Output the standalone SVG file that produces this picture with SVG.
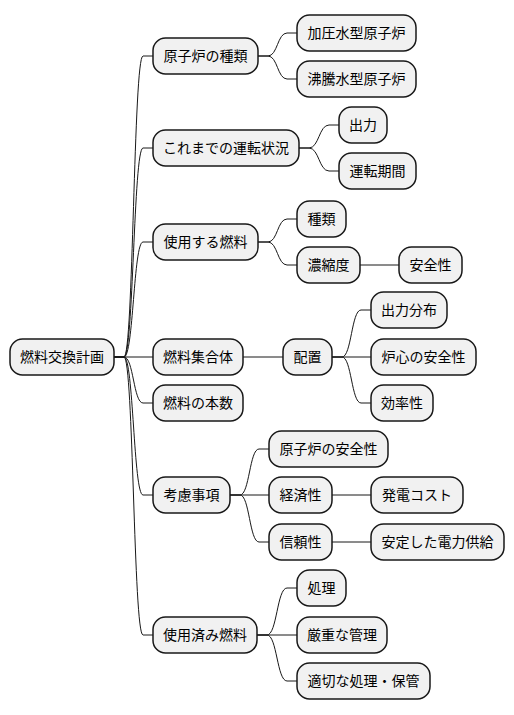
<svg xmlns="http://www.w3.org/2000/svg" width="514" height="715" viewBox="0 0 514 715">
<style>
rect{fill:#F1F1F1;stroke:#181818;stroke-width:1.5}
text{font-family:"Noto Sans CJK JP","Noto Sans CJK SC",sans-serif;font-size:14px;fill:#000;text-anchor:middle}
.c path{fill:none;stroke:#181818;stroke-width:1}
</style>
<rect x="0" y="0" width="514" height="715" style="fill:#fff;stroke:none"/>
<g class="c" id="connectors">
<path d="M114,357 L124,357 C133.5,357 133.5,56 143,56 L153,56"/>
<path d="M114,357 L124,357 C133.5,357 133.5,148 143,148 L153,148"/>
<path d="M114,357 L124,357 C133.5,357 133.5,242 143,242 L153,242"/>
<path d="M114,357 L153,357"/>
<path d="M114,357 L124,357 C133.5,357 133.5,403 143,403 L153,403"/>
<path d="M114,357 L124,357 C133.5,357 133.5,495 143,495 L153,495"/>
<path d="M114,357 L124,357 C133.5,357 133.5,635 143,635 L153,635"/>
<path d="M258,56 L268,56 C277.5,56 277.5,33 287,33 L297,33"/>
<path d="M258,56 L268,56 C277.5,56 277.5,79 287,79 L297,79"/>
<path d="M299,148 L309,148 C319,148 319,125 329,125 L339,125"/>
<path d="M299,148 L309,148 C319,148 319,171 329,171 L339,171"/>
<path d="M258,242 L268,242 C277.5,242 277.5,219 287,219 L297,219"/>
<path d="M258,242 L268,242 C277.5,242 277.5,265 287,265 L297,265"/>
<path d="M360,265 L399,265"/>
<path d="M243,357 L283,357"/>
<path d="M332,357 L342,357 C351.5,357 351.5,310 361,310 L371,310"/>
<path d="M332,357 L371,357"/>
<path d="M332,357 L342,357 C351.5,357 351.5,403 361,403 L371,403"/>
<path d="M230,495 L240,495 C249.5,495 249.5,449 259,449 L269,449"/>
<path d="M230,495 L269,495"/>
<path d="M230,495 L240,495 C249.5,495 249.5,542 259,542 L269,542"/>
<path d="M332,495 L371,495"/>
<path d="M332,542 L371,542"/>
<path d="M257,635 L267,635 C277,635 277,588 287,588 L297,588"/>
<path d="M257,635 L297,635"/>
<path d="M257,635 L267,635 C277,635 277,681 287,681 L297,681"/>
</g>
<g id="root"><rect x="10" y="339" width="104" height="36" rx="12.5"/><text x="62" y="362">燃料交換計画</text></g>
<g id="n1"><rect x="153" y="38" width="105" height="36" rx="12.5"/><text x="205.5" y="61">原子炉の種類</text></g>
<g id="n1a"><rect x="297" y="15" width="119" height="36" rx="12.5"/><text x="356.5" y="38">加圧水型原子炉</text></g>
<g id="n1b"><rect x="297" y="61" width="119" height="36" rx="12.5"/><text x="356.5" y="84">沸騰水型原子炉</text></g>
<g id="n2"><rect x="153" y="130" width="146" height="36" rx="12.5"/><text x="226" y="153">これまでの運転状況</text></g>
<g id="n2a"><rect x="339" y="107" width="48" height="36" rx="12.5"/><text x="363" y="130">出力</text></g>
<g id="n2b"><rect x="339" y="153" width="77" height="36" rx="12.5"/><text x="377.5" y="176">運転期間</text></g>
<g id="n3"><rect x="153" y="224" width="105" height="36" rx="12.5"/><text x="205.5" y="247">使用する燃料</text></g>
<g id="n3a"><rect x="297" y="201" width="49" height="36" rx="12.5"/><text x="321.5" y="224">種類</text></g>
<g id="n3b"><rect x="297" y="247" width="63" height="36" rx="12.5"/><text x="328.5" y="270">濃縮度</text></g>
<g id="n3b1"><rect x="399" y="247" width="63" height="36" rx="12.5"/><text x="430.5" y="270">安全性</text></g>
<g id="n4"><rect x="153" y="339" width="90" height="36" rx="12.5"/><text x="198" y="362">燃料集合体</text></g>
<g id="n4a"><rect x="283" y="339" width="49" height="36" rx="12.5"/><text x="307.5" y="362">配置</text></g>
<g id="n4a1"><rect x="371" y="292" width="76" height="36" rx="12.5"/><text x="409" y="315">出力分布</text></g>
<g id="n4a2"><rect x="371" y="339" width="105" height="36" rx="12.5"/><text x="423.5" y="362">炉心の安全性</text></g>
<g id="n4a3"><rect x="371" y="385" width="62" height="36" rx="12.5"/><text x="402" y="408">効率性</text></g>
<g id="n5"><rect x="153" y="385" width="90" height="36" rx="12.5"/><text x="198" y="408">燃料の本数</text></g>
<g id="n6"><rect x="153" y="477" width="77" height="36" rx="12.5"/><text x="191.5" y="500">考慮事項</text></g>
<g id="n6a"><rect x="269" y="431" width="119" height="36" rx="12.5"/><text x="328.5" y="454">原子炉の安全性</text></g>
<g id="n6b"><rect x="269" y="477" width="63" height="36" rx="12.5"/><text x="300.5" y="500">経済性</text></g>
<g id="n6b1"><rect x="371" y="477" width="92" height="36" rx="12.5"/><text x="417" y="500">発電コスト</text></g>
<g id="n6c"><rect x="269" y="524" width="63" height="36" rx="12.5"/><text x="300.5" y="547">信頼性</text></g>
<g id="n6c1"><rect x="371" y="524" width="133" height="36" rx="12.5"/><text x="437.5" y="547">安定した電力供給</text></g>
<g id="n7"><rect x="153" y="617" width="104" height="36" rx="12.5"/><text x="205" y="640">使用済み燃料</text></g>
<g id="n7a"><rect x="297" y="570" width="49" height="36" rx="12.5"/><text x="321.5" y="593">処理</text></g>
<g id="n7b"><rect x="297" y="617" width="90" height="36" rx="12.5"/><text x="342" y="640">厳重な管理</text></g>
<g id="n7c"><rect x="297" y="663" width="133" height="36" rx="12.5"/><text x="363.5" y="686">適切な処理・保管</text></g>
</svg>
